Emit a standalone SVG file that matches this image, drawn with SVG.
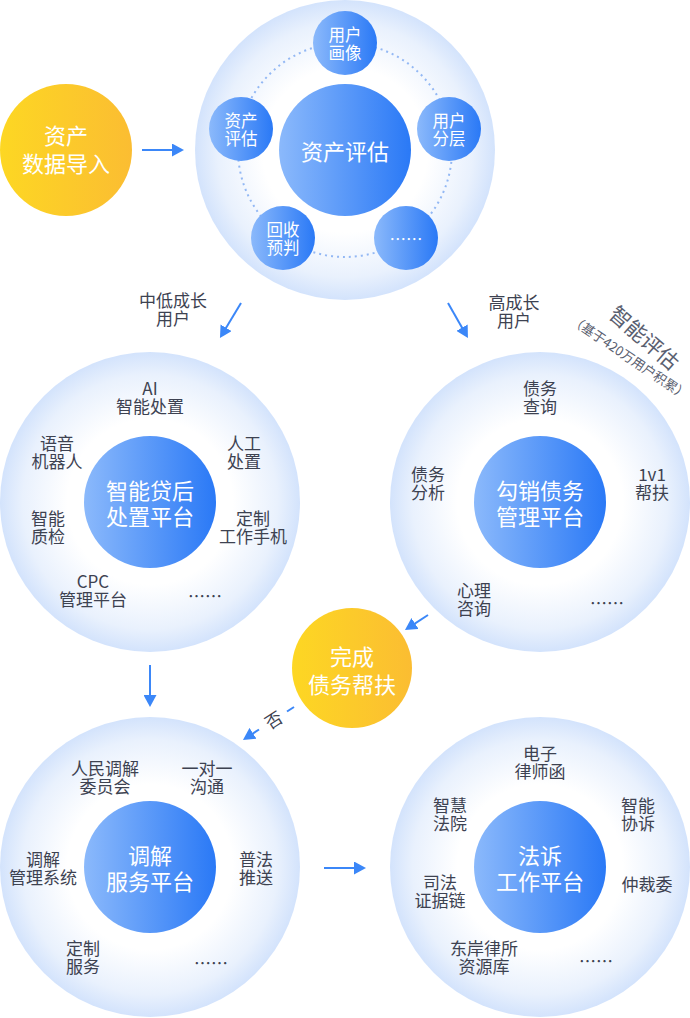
<svg xmlns="http://www.w3.org/2000/svg" width="690" height="1018" viewBox="0 0 690 1018">
<defs>
<radialGradient id="halo" cx="50%" cy="50%" r="50%">
<stop offset="0" stop-color="#ffffff"/>
<stop offset="0.55" stop-color="#ffffff"/>
<stop offset="0.85" stop-color="#e9f1fd"/>
<stop offset="1" stop-color="#d3e3fc"/>
</radialGradient>
<linearGradient id="blue" x1="0" y1="0" x2="1" y2="0">
<stop offset="0" stop-color="#8bb9fb"/>
<stop offset="1" stop-color="#2a79f6"/>
</linearGradient>
<linearGradient id="yellow" x1="0" y1="0" x2="1" y2="0">
<stop offset="0" stop-color="#fdd723"/>
<stop offset="1" stop-color="#fbbd32"/>
</linearGradient>
<marker id="ah" viewBox="0 0 12 13" markerWidth="12" markerHeight="13" refX="3" refY="6.5" orient="auto" markerUnits="userSpaceOnUse">
<path d="M0,0 L12,6.5 L0,13 z" fill="#3b87f8"/>
</marker>
<style>
text{font-family:"Noto Sans CJK SC","Noto Sans",sans-serif;dominant-baseline:central;text-anchor:middle}
.lb{font-size:17px;fill:#3d4251}
.in{font-size:22px;fill:#ffffff}
.sm{font-size:16.5px;fill:#ffffff}
.halo{fill:url(#halo)}
.core{fill:url(#blue)}
.yel{fill:url(#yellow)}
.ar{stroke:#3b87f8;stroke-width:2;fill:none;marker-end:url(#ah)}
.tag{fill:#5a6070}
</style>
</defs>
<rect width="690" height="1018" fill="#ffffff"/>

<g id="halo-top"><circle class="halo" cx="345" cy="150" r="150"/></g>
<g id="halo-left"><circle class="halo" cx="150" cy="502" r="150"/></g>
<g id="halo-right"><circle class="halo" cx="540" cy="502" r="150"/></g>
<g id="halo-bl"><circle class="halo" cx="150" cy="867" r="150"/></g>
<g id="halo-br"><circle class="halo" cx="540" cy="867" r="150"/></g>

<g id="connectors">
<line class="ar" x1="142" y1="150" x2="175" y2="150"/>
<line class="ar" x1="241" y1="303" x2="224.6" y2="330.3"/>
<line class="ar" x1="448" y1="303" x2="463.5" y2="330.2"/>
<line class="ar" x1="428" y1="615" x2="412.5" y2="625.1"/>
<line class="ar" x1="150" y1="665" x2="150" y2="698"/>
<line x1="294" y1="707" x2="287" y2="711.5" stroke="#3b87f8" stroke-width="2"/>
<line class="ar" x1="259" y1="729.5" x2="250.5" y2="735"/>
<text class="lb" x="273" y="719" transform="rotate(-33 273 719)">否</text>
<line class="ar" x1="324" y1="868" x2="357" y2="868"/>
</g>

<g id="asset-import">
<circle class="yel" cx="66" cy="150" r="66"/>
<text class="in" x="66" y="134">资产</text>
<text class="in" x="66" y="162">数据导入</text>
</g>

<g id="asset-eval">
<circle cx="345" cy="150" r="107" fill="none" stroke="#93b8f4" stroke-width="2" stroke-dasharray="2 4"/>
<circle class="core" cx="345" cy="150" r="66"/>
<text class="in" x="345" y="150">资产评估</text>
</g>
<g id="sat-portrait">
<circle class="core" cx="345" cy="43" r="32"/>
<text class="sm" x="345" y="34">用户</text>
<text class="sm" x="345" y="52">画像</text>
</g>
<g id="sat-eval">
<circle class="core" cx="241" cy="129" r="32"/>
<text class="sm" x="241" y="120">资产</text>
<text class="sm" x="241" y="138">评估</text>
</g>
<g id="sat-layer">
<circle class="core" cx="449" cy="129" r="32"/>
<text class="sm" x="449" y="120">用户</text>
<text class="sm" x="449" y="138">分层</text>
</g>
<g id="sat-predict">
<circle class="core" cx="283" cy="238" r="32"/>
<text class="sm" x="283" y="229">回收</text>
<text class="sm" x="283" y="247">预判</text>
</g>
<g id="sat-more">
<circle class="core" cx="406" cy="238" r="32"/>
<text class="sm" x="406" y="239">……</text>
</g>

<g id="label-low">
<text class="lb" x="173" y="299">中低成长</text>
<text class="lb" x="173" y="317">用户</text>
</g>
<g id="label-high">
<text class="lb" x="514" y="301">高成长</text>
<text class="lb" x="514" y="319">用户</text>
</g>
<g id="label-smart">
<text class="tag" x="645" y="337" font-size="21" transform="rotate(41 645 337)">智能评估</text>
<text class="tag" x="630" y="357" font-size="13" transform="rotate(34 630 357)">（基于420万用户积累）</text>
</g>

<g id="smart-disposal">
<circle class="core" cx="150" cy="502" r="66"/>
<text class="in" x="150" y="489">智能贷后</text>
<text class="in" x="150" y="515">处置平台</text>
<text class="lb" x="150" y="387">AI</text>
<text class="lb" x="150" y="405">智能处置</text>
<text class="lb" x="57" y="442">语音</text>
<text class="lb" x="57" y="460">机器人</text>
<text class="lb" x="244" y="442">人工</text>
<text class="lb" x="244" y="460">处置</text>
<text class="lb" x="48" y="517">智能</text>
<text class="lb" x="48" y="535">质检</text>
<text class="lb" x="253" y="517">定制</text>
<text class="lb" x="253" y="535">工作手机</text>
<text class="lb" x="93" y="580">CPC</text>
<text class="lb" x="93" y="598">管理平台</text>
<text class="lb" x="205" y="595">……</text>
</g>

<g id="debt-mgmt">
<circle class="core" cx="540" cy="502" r="66"/>
<text class="in" x="540" y="489">勾销债务</text>
<text class="in" x="540" y="515">管理平台</text>
<text class="lb" x="540" y="387">债务</text>
<text class="lb" x="540" y="405">查询</text>
<text class="lb" x="428" y="473">债务</text>
<text class="lb" x="428" y="491">分析</text>
<text class="lb" x="652" y="473">1v1</text>
<text class="lb" x="652" y="491">帮扶</text>
<text class="lb" x="474" y="589">心理</text>
<text class="lb" x="474" y="607">咨询</text>
<text class="lb" x="607" y="602">……</text>
</g>

<g id="debt-done">
<circle class="yel" cx="352" cy="668" r="60"/>
<text class="in" x="352" y="655">完成</text>
<text class="in" x="352" y="683">债务帮扶</text>
</g>

<g id="mediation">
<circle class="core" cx="150" cy="867" r="66"/>
<text class="in" x="150" y="854">调解</text>
<text class="in" x="150" y="880">服务平台</text>
<text class="lb" x="105" y="767">人民调解</text>
<text class="lb" x="105" y="785">委员会</text>
<text class="lb" x="207" y="767">一对一</text>
<text class="lb" x="207" y="785">沟通</text>
<text class="lb" x="43" y="858">调解</text>
<text class="lb" x="43" y="876">管理系统</text>
<text class="lb" x="256" y="858">普法</text>
<text class="lb" x="256" y="876">推送</text>
<text class="lb" x="83" y="947">定制</text>
<text class="lb" x="83" y="965">服务</text>
<text class="lb" x="211" y="962">……</text>
</g>

<g id="litigation">
<circle class="core" cx="540" cy="867" r="66"/>
<text class="in" x="540" y="854">法诉</text>
<text class="in" x="540" y="880">工作平台</text>
<text class="lb" x="540" y="752">电子</text>
<text class="lb" x="540" y="770">律师函</text>
<text class="lb" x="450" y="804">智慧</text>
<text class="lb" x="450" y="822">法院</text>
<text class="lb" x="638" y="804">智能</text>
<text class="lb" x="638" y="822">协诉</text>
<text class="lb" x="440" y="881">司法</text>
<text class="lb" x="440" y="899">证据链</text>
<text class="lb" x="647" y="883">仲裁委</text>
<text class="lb" x="484" y="947">东岸律所</text>
<text class="lb" x="484" y="965">资源库</text>
<text class="lb" x="596" y="960">……</text>
</g>
</svg>
